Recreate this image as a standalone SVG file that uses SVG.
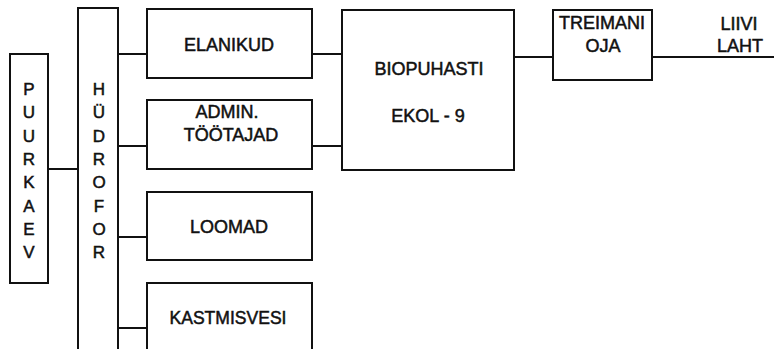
<svg xmlns="http://www.w3.org/2000/svg" width="774" height="349" viewBox="0 0 774 349">
<style>
.box{fill:#fff;stroke:#111;stroke-width:2}
.ln{fill:none;stroke:#111;stroke-width:2}
text{font-family:"Liberation Sans",Arial,sans-serif;font-size:18px;fill:#111;stroke:#111;stroke-width:0.5;text-anchor:middle}
.v{font-size:17px}
</style>
<rect width="774" height="349" fill="#fff"/>
<g id="connectors">
<path class="ln" d="M48 169H78"/>
<path class="ln" d="M118 54H147M118 146H147M118 237H147M118 328H147"/>
<path class="ln" d="M312 54H342M312 146H342"/>
<path class="ln" d="M514 57H553"/>
<path class="ln" d="M652 57H774"/>
</g>
<g id="puurkaev">
<rect class="box" x="10" y="54" width="38" height="229"/>
<text class="v" x="29" y="95">P</text>
<text class="v" x="29" y="118">U</text>
<text class="v" x="29" y="142">U</text>
<text class="v" x="29" y="165">R</text>
<text class="v" x="29" y="188">K</text>
<text class="v" x="29" y="212">A</text>
<text class="v" x="29" y="235">E</text>
<text class="v" x="29" y="258">V</text>
</g>
<g id="hudrofor">
<path class="ln" d="M78 352V8H118V352"/>
<text class="v" x="99" y="95">H</text>
<text class="v" x="99" y="118">Ü</text>
<text class="v" x="99" y="142">D</text>
<text class="v" x="99" y="165">R</text>
<text class="v" x="99" y="188">O</text>
<text class="v" x="99" y="212">F</text>
<text class="v" x="99" y="235">O</text>
<text class="v" x="99" y="258">R</text>
</g>
<g id="elanikud">
<rect class="box" x="147" y="9" width="165" height="69"/>
<text x="229" y="51">ELANIKUD</text>
</g>
<g id="admin">
<rect class="box" x="147" y="100" width="165" height="69"/>
<text x="227" y="118">ADMIN.</text>
<text x="231" y="141">TÖÖTAJAD</text>
</g>
<g id="loomad">
<rect class="box" x="147" y="192" width="165" height="68"/>
<text x="229" y="233">LOOMAD</text>
</g>
<g id="kastmisvesi">
<path class="ln" d="M147 352V283H312V352"/>
<text x="228" y="324" textLength="117" lengthAdjust="spacingAndGlyphs">KASTMISVESI</text>
</g>
<g id="biopuhasti">
<rect class="box" x="342" y="10" width="172" height="160"/>
<text x="429" y="75">BIOPUHASTI</text>
<text x="428" y="122">EKOL - 9</text>
</g>
<g id="treimani">
<rect class="box" x="553" y="10" width="99" height="70"/>
<text x="602" y="29">TREIMANI</text>
<text x="603" y="52">OJA</text>
</g>
<g id="liivi">
<text x="739" y="30">LIIVI</text>
<text x="740" y="52">LAHT</text>
</g>
</svg>
